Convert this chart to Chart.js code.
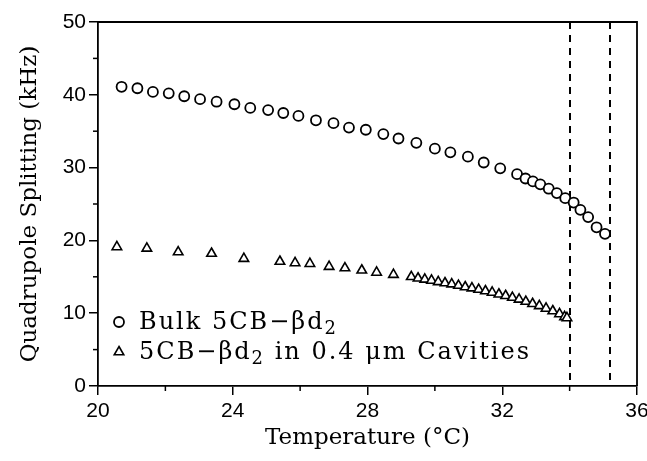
<!DOCTYPE html>
<html>
<head>
<meta charset="UTF-8">
<title>Quadrupole Splitting vs Temperature</title>
<style>
  html, body { margin: 0; padding: 0; background: #fff; }
  canvas { display: block; }
</style>
</head>
<body>
<canvas id="chart" width="647" height="461"></canvas>
<script src="https://cdn.jsdelivr.net/npm/chart.js"></script>
<script>
// bulk 5CB-βd2
const bulkTemp  = [20.70, 21.17, 21.63, 22.10, 22.56, 23.03, 23.52, 24.05, 24.52, 25.05, 25.50, 25.95,
                   26.47, 26.99, 27.45, 27.95, 28.47, 28.92, 29.45, 30.00, 30.46, 30.98, 31.45, 31.94,
                   32.44, 32.69, 32.91, 33.13, 33.38, 33.62, 33.87, 34.12, 34.32, 34.55, 34.80, 35.05];
const bulkSplit = [41.1, 40.9, 40.4, 40.2, 39.8, 39.4, 39.05, 38.7, 38.2, 37.9, 37.5, 37.1,
                   36.5, 36.1, 35.5, 35.2, 34.6, 34.0, 33.4, 32.6, 32.1, 31.5, 30.7, 29.9,
                   29.1, 28.5, 28.1, 27.7, 27.1, 26.5, 25.8, 25.2, 24.2, 23.2, 21.8, 20.9];
// 5CB-βd2 in 0.4 µm cavities
const cavTemp  = [20.56, 21.45, 22.38, 23.37, 24.33, 25.40, 25.85, 26.29, 26.86, 27.33, 27.83, 28.27, 28.77,
                  29.30, 29.50, 29.70, 29.90, 30.10, 30.30, 30.50, 30.70, 30.90, 31.10, 31.30, 31.50,
                  31.70, 31.90, 32.10, 32.30, 32.50, 32.70, 32.90, 33.10, 33.30, 33.50, 33.70, 33.85, 33.92];
const cavSplit = [19.1, 18.9, 18.4, 18.2, 17.5, 17.1, 16.9, 16.8, 16.4, 16.2, 15.9, 15.6, 15.3,
                  15.0, 14.8, 14.65, 14.5, 14.3, 14.15, 14.0, 13.8, 13.6, 13.45, 13.25, 13.05,
                  12.85, 12.6, 12.4, 12.15, 11.9, 11.6, 11.3, 11.0, 10.65, 10.3, 9.9, 9.5, 9.35];

const transitionTemps = [34.0, 35.2];
const xTickValues = [20, 24, 28, 32, 36];
const xMinorTicks = [22, 26, 30, 34];
const yTickValues = [0, 10, 20, 30, 40, 50];
const yMinorTicks = [5, 15, 25, 35, 45];
const legendRows = [
  ['Bulk 5CB\u2212\u03b2d', '2', ''],
  ['5CB\u2212\u03b2d', '2', ' in 0.4 \u03bcm Cavities']
];

const toPoints = (xs, ys) => xs.map((x, i) => ({ x: x, y: ys[i] }));

const serif = 'DejaVu Serif';
const sans = 'Liberation Sans';

// box, minor ticks and the two dashed transition lines
const framePlugin = {
  id: 'frame',
  beforeDatasetsDraw(chart) {
    const { ctx, chartArea: a, scales: { x } } = chart;
    ctx.save();
    ctx.strokeStyle = '#000';
    ctx.lineWidth = 2;
    ctx.setLineDash([7, 6]);
    transitionTemps.forEach(t => {
      const px = Math.round(x.getPixelForValue(t));
      ctx.beginPath();
      ctx.moveTo(px, a.top);
      ctx.lineTo(px, a.bottom);
      ctx.stroke();
    });
    ctx.restore();
  },
  afterDraw(chart) {
    const { ctx, chartArea: a, scales: { x, y } } = chart;
    ctx.save();
    ctx.strokeStyle = '#000';
    ctx.lineWidth = 1.8;
    ctx.beginPath();
    ctx.moveTo(a.left, a.top);
    ctx.lineTo(a.right, a.top);
    ctx.lineTo(a.right, a.bottom);
    ctx.stroke();
    ctx.lineWidth = 1.5;
    xMinorTicks.forEach(v => {
      const px = x.getPixelForValue(v);
      ctx.beginPath();
      ctx.moveTo(px, a.bottom);
      ctx.lineTo(px, a.bottom + 5);
      ctx.stroke();
    });
    yMinorTicks.forEach(v => {
      const py = y.getPixelForValue(v);
      ctx.beginPath();
      ctx.moveTo(a.left, py);
      ctx.lineTo(a.left - 5, py);
      ctx.stroke();
    });
    ctx.restore();
  }
};

// legend drawn inside the plot, lower left
const legendPlugin = {
  id: 'inlineLegend',
  afterDraw(chart) {
    const ctx = chart.ctx;
    ctx.save();
    chart.data.datasets.forEach((ds, i) => {
      const base = 329 + i * 30;
      ctx.fillStyle = '#fff';
      ctx.strokeStyle = '#000';
      ctx.lineWidth = ds.borderWidth;
      Chart.helpers.drawPoint(ctx, { pointStyle: ds.pointStyle, radius: ds.pointRadius, borderWidth: ds.borderWidth, rotation: 0 }, 119, base - 7);
      const [main, sub, rest] = legendRows[i];
      ctx.fillStyle = '#000';
      ctx.textBaseline = 'alphabetic';
      ctx.letterSpacing = '2px';
      let tx = 139;
      ctx.font = '24px "' + serif + '"';
      ctx.fillText(main, tx, base);
      tx += ctx.measureText(main).width;
      ctx.font = '18px "' + serif + '"';
      ctx.fillText(sub, tx, base + 5);
      tx += ctx.measureText(sub).width;
      ctx.font = '24px "' + serif + '"';
      ctx.fillText(rest, tx, base);
    });
    ctx.restore();
  }
};

new Chart(document.getElementById('chart'), {
  type: 'scatter',
  data: {
    datasets: [
      {
        label: 'Bulk 5CB\u2212\u03b2d\u2082',
        data: toPoints(bulkTemp, bulkSplit),
        pointStyle: 'circle',
        pointRadius: 5,
        borderWidth: 1.8,
        borderColor: '#000',
        backgroundColor: '#fff'
      },
      {
        label: '5CB\u2212\u03b2d\u2082 in 0.4 \u03bcm Cavities',
        data: toPoints(cavTemp, cavSplit),
        pointStyle: 'triangle',
        pointRadius: 5.5,
        borderWidth: 1.6,
        borderColor: '#000',
        backgroundColor: '#fff'
      }
    ]
  },
  options: {
    responsive: false,
    animation: false,
    layout: { padding: { left: 0, right: 10, top: 22, bottom: 0 } },
    plugins: { legend: { display: false }, tooltip: { enabled: false } },
    scales: {
      x: {
        type: 'linear',
        min: 20,
        max: 36,
        afterBuildTicks: s => { s.ticks = xTickValues.map(v => ({ value: v })); },
        afterFit: s => { s.height = 75; s.paddingLeft = 0; s.paddingRight = 0; },
        ticks: { color: '#000', font: { family: sans, size: 21 }, padding: 4, maxRotation: 0, autoSkip: false },
        grid: { drawOnChartArea: false, drawTicks: true, tickLength: 9, color: '#000', lineWidth: 1.5 },
        border: { color: '#000', width: 1.8 },
        title: { display: true, text: 'Temperature (\u00b0C)', color: '#000',
                 font: { family: serif, size: 23, lineHeight: 1.2 }, padding: { top: 0, bottom: 9 } }
      },
      y: {
        type: 'linear',
        min: 0,
        max: 50,
        afterBuildTicks: s => { s.ticks = yTickValues.map(v => ({ value: v })); },
        afterFit: s => { s.width = 98; s.paddingTop = 0; s.paddingBottom = 0; },
        ticks: { color: '#000', font: { family: sans, size: 21 }, padding: 3 },
        grid: { drawOnChartArea: false, drawTicks: true, tickLength: 9, color: '#000', lineWidth: 1.5 },
        border: { color: '#000', width: 1.8 },
        title: { display: true, text: 'Quadrupole Splitting (kHz)', color: '#000',
                 font: { family: serif, size: 23, lineHeight: 1.2 }, padding: { top: 16, bottom: 0 } }
      }
    }
  },
  plugins: [framePlugin, legendPlugin]
});
</script>
</body>
</html>
